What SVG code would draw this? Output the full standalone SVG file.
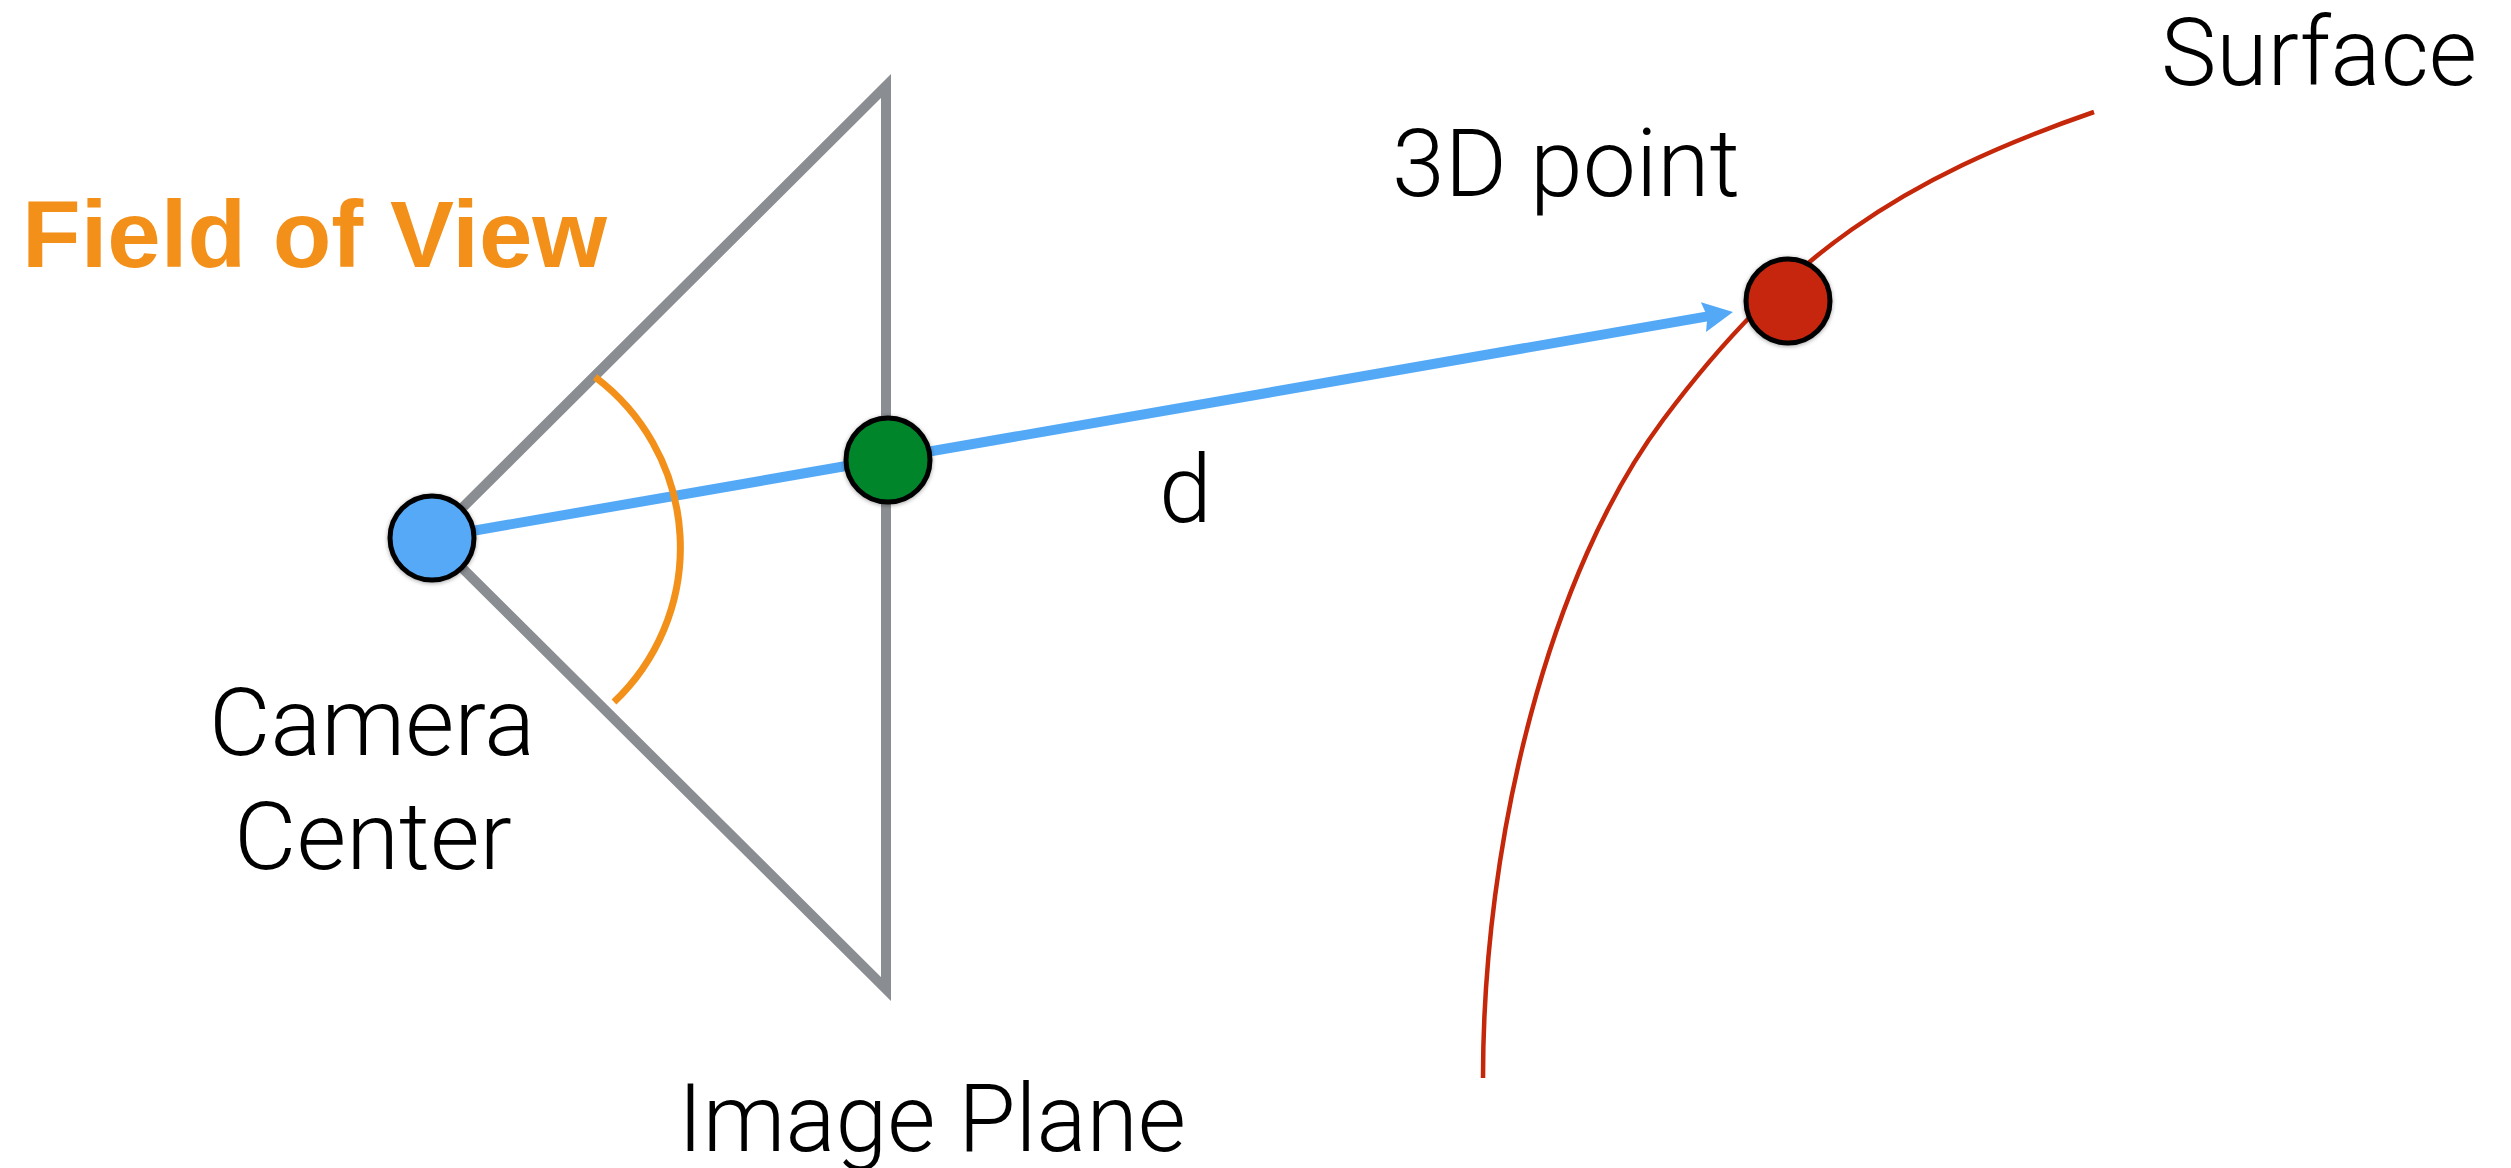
<svg xmlns="http://www.w3.org/2000/svg" width="2511" height="1168" viewBox="0 0 2511 1168">
  <style>
    .lbl { font-family: Roboto, "Liberation Sans", Arial, sans-serif; font-weight: 300; font-size: 95px; fill: #000000; }
    .fov { font-family: "Liberation Sans", Arial, Helvetica, sans-serif; font-size: 95px; font-weight: bold; fill: #F39019; }
    .pt { stroke: #000000; stroke-width: 5; filter: url(#shadow); }
    .plane { fill: none; stroke: #8A8D91; stroke-width: 10; stroke-linejoin: miter; stroke-miterlimit: 10; }
    .ray { fill: none; stroke: #54A9F7; stroke-width: 10; }
  </style>
  <defs>
    <filter id="shadow" x="-30%" y="-30%" width="160%" height="160%">
      <feDropShadow dx="0" dy="1" stdDeviation="2" flood-color="#000000" flood-opacity="0.35"/>
    </filter>
    <marker id="arrow" markerUnits="userSpaceOnUse" markerWidth="32" markerHeight="32" refX="10" refY="15" orient="auto">
      <path d="M0,0 L30,15 L0,30 L4,15 Z" fill="#54A9F7"/>
    </marker>
  </defs>
  <rect x="0" y="0" width="2511" height="1168" fill="#FFFFFF"/>

  <g id="image-plane">
    <path class="plane" d="M432,538 L886,86 L886,989 Z"/>
  </g>

  <g id="surface">
    <path fill="none" stroke="#C4270A" stroke-width="4.5" d="M2094,112 C1900.1,178.8 1785.6,255.8 1663,420 C1549.4,572.2 1483,838 1483,1078"/>
  </g>

  <g id="connectors">
    <line class="ray" x1="432" y1="538" x2="1713.3" y2="315.4" marker-end="url(#arrow)"/>
  </g>

  <g id="field-of-view">
    <path fill="none" stroke="#F39019" stroke-width="7" d="M595,377 A213,213 0 0 1 614,702"/>
  </g>

  <g id="camera-center">
    <circle class="pt" cx="432" cy="538" r="42" fill="#54A9F7"/>
  </g>

  <g id="image-point">
    <circle class="pt" cx="888" cy="460" r="42" fill="#00852C"/>
  </g>

  <g id="point-3d">
    <circle class="pt" cx="1788" cy="301" r="42" fill="#C5270A"/>
  </g>

  <g id="labels">
    <text class="fov" x="22" y="267" textLength="585" lengthAdjust="spacingAndGlyphs">Field of View</text>
    <text class="lbl" x="2161" y="85" textLength="316" lengthAdjust="spacingAndGlyphs">Surface</text>
    <text class="lbl" x="1392" y="196" textLength="348" lengthAdjust="spacingAndGlyphs">3D point</text>
    <text class="lbl" x="1159" y="522">d</text>
    <text class="lbl" x="209" y="755" textLength="326" lengthAdjust="spacingAndGlyphs">Camera</text>
    <text class="lbl" x="234" y="869" textLength="278" lengthAdjust="spacingAndGlyphs">Center</text>
    <text class="lbl" x="678" y="1151" textLength="508" lengthAdjust="spacingAndGlyphs">Image Plane</text>
  </g>
</svg>
